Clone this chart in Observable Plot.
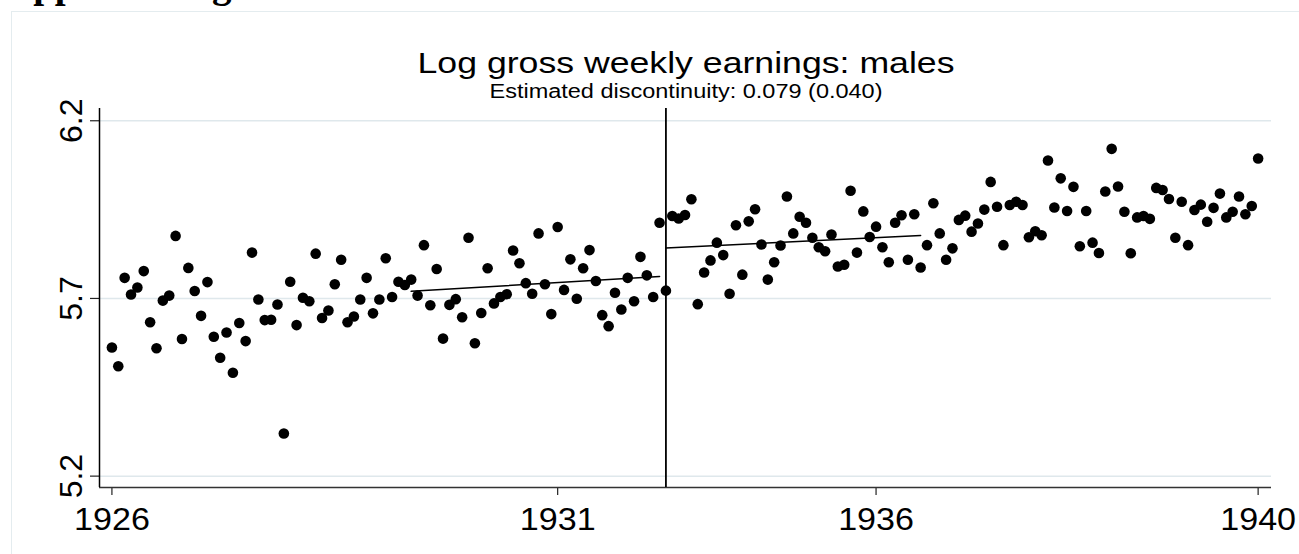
<!DOCTYPE html>
<html><head><meta charset="utf-8">
<script src="https://cdn.jsdelivr.net/npm/d3@7"></script>
<script src="https://cdn.jsdelivr.net/npm/@observablehq/plot@0.6"></script>
<style>
html,body{margin:0;padding:0;background:#fff;overflow:hidden}
#wrap{position:relative;width:1299px;height:554px;overflow:hidden;background:#fff}
#frame{position:absolute;left:11px;top:11px;width:1400px;height:700px;border:1px solid #e4ecef}
#chart{position:absolute;left:0;top:0}
#hdr{position:absolute;left:0;top:0}
</style></head><body>
<div id="wrap"><div id="frame"></div><div id="chart"></div>
<svg id="hdr" width="1299" height="120" style="pointer-events:none">
  <text id="cut" x="5" y="-3" font-family="'Liberation Serif','Times New Roman',serif" font-weight="bold" font-size="39" fill="#000">Appendix Figure</text>
  <text id="title" x="686" y="73" text-anchor="middle" font-family="'Liberation Sans',Arial,sans-serif" font-size="30" fill="#000">Log gross weekly earnings: males</text>
  <text id="sub" x="686" y="98" text-anchor="middle" font-family="'Liberation Sans',Arial,sans-serif" font-size="20" fill="#000">Estimated discontinuity: 0.079 (0.040)</text>
</svg>
</div>
<script>
// monthly observations, January 1926 onward (log gross weekly earnings, males)
const earnings = [
5.562,5.509,5.758,5.711,5.731,5.777,5.633,5.560,5.694,5.708,
5.876,5.586,5.786,5.721,5.651,5.746,5.592,5.533,5.604,5.491,
5.631,5.580,5.829,5.697,5.639,5.640,5.683,5.320,5.747,5.625,
5.702,5.692,5.826,5.645,5.666,5.740,5.809,5.633,5.649,5.697,
5.758,5.658,5.697,5.813,5.704,5.747,5.738,5.753,5.708,5.850,
5.681,5.783,5.587,5.682,5.698,5.647,5.871,5.574,5.659,5.785,
5.686,5.704,5.712,5.835,5.799,5.743,5.713,5.883,5.740,5.656,
5.901,5.724,5.810,5.699,5.785,5.836,5.749,5.653,5.622,5.716,
5.669,5.758,5.692,5.817,5.765,5.704,5.913,5.722,5.932,5.925,
5.935,5.979,5.684,5.773,5.807,5.857,5.822,5.713,5.906,5.767,
5.917,5.951,5.852,5.753,5.802,5.849,5.987,5.883,5.930,5.913,
5.871,5.844,5.833,5.880,5.790,5.795,6.003,5.829,5.945,5.873,
5.902,5.844,5.802,5.913,5.934,5.809,5.937,5.787,5.850,5.968,
5.883,5.809,5.841,5.921,5.933,5.888,5.911,5.950,6.028,5.958,
5.850,5.963,5.972,5.963,5.872,5.889,5.878,6.088,5.956,6.038,
5.946,6.014,5.847,5.946,5.857,5.828,6.001,6.121,6.015,5.944,
5.827,5.928,5.932,5.924,6.011,6.005,5.980,5.871,5.972,5.850,
5.949,5.964,5.916,5.955,5.995,5.928,5.944,5.987,5.937,5.960,
6.094
];
const tickMonths = [0, 70, 120, 180];
const tickLabels = ["1926", "1931", "1936", "1940"];
const yTicks = [5.2, 5.7, 6.2];
const cutoffMonth = 87;
const fitLeftMonths = [47, 86];
const fitLeftValues = [5.720, 5.762];
const fitRightMonths = [87, 127];
const fitRightValues = [5.842, 5.877];
const xDomain = [-1.95, 182.1];
const yDomain = [5.168, 6.2345];

const points = earnings.map((v, i) => ({month: i, value: v}));
const fitLeft = fitLeftMonths.map((m, i) => ({month: m, value: fitLeftValues[i]}));
const fitRight = fitRightMonths.map((m, i) => ({month: m, value: fitRightValues[i]}));

const chart = Plot.plot({
  width: 1299, height: 554,
  marginLeft: 99, marginRight: 28, marginTop: 108, marginBottom: 67,
  style: {fontFamily: "'Liberation Sans', Arial, sans-serif", background: "transparent", color: "#000"},
  x: {domain: xDomain, label: null},
  y: {domain: yDomain, label: null},
  marks: [
    Plot.gridY(yTicks, {stroke: "#dfe8ec", strokeOpacity: 1, strokeWidth: 1.5}),
    Plot.axisY(yTicks, {tickSize: 9, tickFormat: () => "", stroke: "#222", strokeWidth: 1.2}),
    Plot.text(yTicks, {y: d => d, text: d => d.toFixed(1), frameAnchor: "left", rotate: -90, dx: -18,
      textAnchor: "middle", lineAnchor: "bottom", fontSize: 32, fill: "#000"}),
    Plot.axisX(tickMonths, {tickSize: 8, tickPadding: 12, fontSize: 31, stroke: "#222", strokeWidth: 1.2,
      tickFormat: d => tickLabels[tickMonths.indexOf(d)]}),
    Plot.ruleY([yDomain[0]], {stroke: "#333", strokeWidth: 1.5}),
    Plot.ruleX([xDomain[0]], {stroke: "#000", strokeWidth: 1.5}),
    Plot.ruleX([cutoffMonth], {stroke: "#000", strokeWidth: 1.8}),
    Plot.line(fitLeft, {x: "month", y: "value", stroke: "#000", strokeWidth: 1.5}),
    Plot.line(fitRight, {x: "month", y: "value", stroke: "#000", strokeWidth: 1.5}),
    Plot.dot(points, {x: "month", y: "value", r: 5.3, fill: "#000", stroke: "none"})
  ]
});
document.getElementById("chart").appendChild(chart);

function stretchTo(el, w) {
  el.setAttribute("textLength", w);
  el.setAttribute("lengthAdjust", "spacingAndGlyphs");
}
function stretchBy(el, f) {
  const w = el.getComputedTextLength();
  stretchTo(el, w * f);
}
stretchTo(document.getElementById("title"), 537);
stretchTo(document.getElementById("sub"), 393);
d3.select(chart).selectAll('g[aria-label="x-axis tick label"] text').each(function() { stretchBy(this, 1.1); });
</script>
</body></html>
